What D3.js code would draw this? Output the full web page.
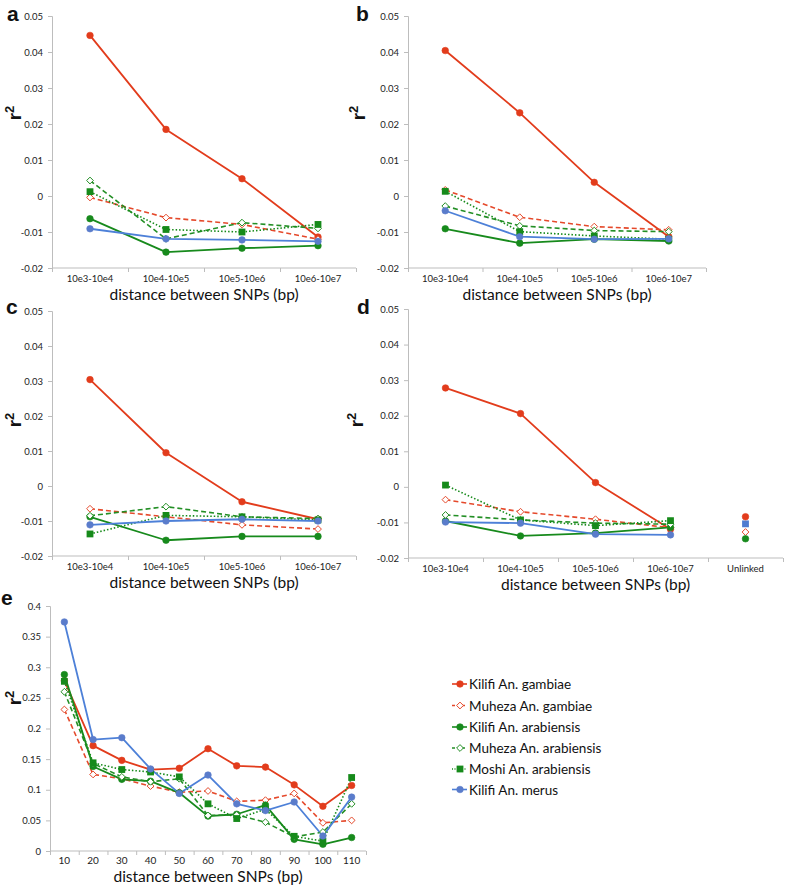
<!DOCTYPE html>
<html><head><meta charset="utf-8">
<script src="https://cdn.jsdelivr.net/npm/d3@7"></script>
<style>body{margin:0;background:#fff}svg{display:block}</style>
</head><body>
<svg id="c" width="785" height="885"></svg>
<script>
// ---------- DATA ----------
const seriesNames = ["Kilifi An. gambiae","Muheza An. gambiae","Kilifi An. arabiensis","Muheza An. arabiensis","Moshi An. arabiensis","Kilifi An. merus"];
const catsABC = ["10e3-10e4","10e4-10e5","10e5-10e6","10e6-10e7"];
const catsD = ["10e3-10e4","10e4-10e5","10e5-10e6","10e6-10e7","Unlinked"];
const catsE = ["10","20","30","40","50","60","70","80","90","100","110"];
const yTicksAD = [-0.02,-0.01,0,0.01,0.02,0.03,0.04,0.05];
const yTicksE = [0,0.05,0.1,0.15,0.2,0.25,0.3,0.35,0.4];

// panel a
const aKilifiGam  = [0.0446, 0.0185, 0.0048, -0.0114];
const aMuhezaGam  = [-0.0004, -0.0060, -0.0079, -0.0120];
const aKilifiAra  = [-0.0063, -0.0156, -0.0145, -0.0138];
const aMuhezaAra  = [0.0043, -0.0119, -0.0074, -0.0090];
const aMoshiAra   = [0.0012, -0.0093, -0.0100, -0.0079];
const aKilifiMer  = [-0.0091, -0.0119, -0.0122, -0.0126];
// panel b
const bKilifiGam  = [0.0404, 0.0231, 0.0038, -0.0113];
const bMuhezaGam  = [0.0017, -0.0059, -0.0085, -0.0094];
const bKilifiAra  = [-0.0091, -0.0131, -0.0120, -0.0125];
const bMuhezaAra  = [-0.0028, -0.0083, -0.0096, -0.0099];
const bMoshiAra   = [0.0013, -0.0099, -0.0111, -0.0120];
const bKilifiMer  = [-0.0041, -0.0113, -0.0120, -0.0119];
// panel c
const cKilifiGam  = [0.0304, 0.0095, -0.0045, -0.0095];
const cMuhezaGam  = [-0.0065, -0.0088, -0.0111, -0.0123];
const cKilifiAra  = [-0.0088, -0.0155, -0.0144, -0.0144];
const cMuhezaAra  = [-0.0085, -0.0059, -0.0088, -0.0093];
const cMoshiAra   = [-0.0137, -0.0084, -0.0088, -0.0097];
const cKilifiMer  = [-0.0111, -0.0100, -0.0095, -0.0100];
// panel d (last value = Unlinked, drawn as separate point)
const dKilifiGam  = [0.0278, 0.0206, 0.0012, -0.0119, -0.0084];
const dMuhezaGam  = [-0.0036, -0.0070, -0.0091, -0.0115, -0.0127];
const dKilifiAra  = [-0.0096, -0.0138, -0.0130, -0.0114, -0.0146];
const dMuhezaAra  = [-0.0079, -0.0093, -0.0102, -0.0105, null];
const dMoshiAra   = [0.0005, -0.0093, -0.0109, -0.0095, null];
const dKilifiMer  = [-0.0099, -0.0102, -0.0133, -0.0135, -0.0104];
// panel e
const eKilifiGam  = [0.278, 0.172, 0.148, 0.133, 0.135, 0.167, 0.139, 0.137, 0.108, 0.073, 0.107];
const eMuhezaGam  = [0.231, 0.125, 0.118, 0.106, 0.096, 0.098, 0.081, 0.083, 0.094, 0.046, 0.050];
const eKilifiAra  = [0.288, 0.138, 0.117, 0.114, 0.095, 0.057, 0.060, 0.075, 0.019, 0.011, 0.022];
const eMuhezaAra  = [0.260, 0.143, 0.121, 0.113, 0.118, 0.058, 0.059, 0.047, 0.023, 0.031, 0.077];
const eMoshiAra   = [0.277, 0.144, 0.133, 0.129, 0.121, 0.077, 0.053, 0.068, 0.024, 0.016, 0.120];
const eKilifiMer  = [0.374, 0.182, 0.185, 0.134, 0.094, 0.124, 0.077, 0.066, 0.080, 0.0245, 0.088];

// ---------- STYLE ----------
const styles = [
  {color:"#e23c1c", dash:null,    marker:"circle",  fill:true,  width:1.8},
  {color:"#e5492b", dash:"5,3",   marker:"diamond", fill:false, width:1.6},
  {color:"#178a1c", dash:null,    marker:"circle",  fill:true,  width:1.8},
  {color:"#238f25", dash:"5,3",   marker:"diamond", fill:false, width:1.6},
  {color:"#168a1a", dash:"1.5,2", marker:"square",  fill:true,  width:1.6},
  {color:"#4d80d8", dash:null,    marker:"circle",  fill:true,  width:1.8, mcolor:"#5a7ccb"}
];
const FONT = "Lato, 'Open Sans', sans-serif";
const svg = d3.select("#c");

function marker(g, type, x, y, st, colorOverride){
  const col = colorOverride || st.mcolor || st.color;
  if(type==="circle"){
    g.append("circle").attr("cx",x).attr("cy",y).attr("r",3.3).attr("fill",col).attr("stroke",col).attr("stroke-width",0.6);
  } else if(type==="square"){
    g.append("rect").attr("x",x-3.4).attr("y",y-3.4).attr("width",6.8).attr("height",6.8).attr("fill",col);
  } else {
    g.append("path").attr("d",`M${x},${y-3.4}L${x+3.4},${y}L${x},${y+3.4}L${x-3.4},${y}Z`)
      .attr("fill","#fff").attr("stroke",col).attr("stroke-width",1);
  }
}

function panel(cfg){
  const g = svg.append("g");
  const x = d3.scaleBand().domain(cfg.cats).range([cfg.x0,cfg.x1]).paddingInner(0).paddingOuter(0);
  const y = d3.scaleLinear().domain(cfg.ydom).range([cfg.yb,cfg.yt]);
  const cx = c => x(c)+x.bandwidth()/2;
  // y axis
  const ya = g.append("g").attr("transform",`translate(${cfg.x0},0)`)
    .call(d3.axisLeft(y).tickValues(cfg.yticks).tickSize(4).tickPadding(5).tickFormat(v=>String(+v.toFixed(2))));
  ya.select(".domain").attr("stroke","#bdbdbd");
  ya.selectAll(".tick line").attr("stroke","#bdbdbd");
  ya.selectAll("text").attr("font-family",FONT).attr("font-size",cfg.tfs||9.5).attr("fill","#222");
  // x axis: boundary ticks
  const xb = d3.scaleLinear().domain([0,cfg.cats.length]).range([cfg.x0,cfg.x1]);
  const xa = g.append("g").attr("transform",`translate(0,${cfg.yb})`)
    .call(d3.axisBottom(xb).tickValues(d3.range(cfg.cats.length+1)).tickSize(4).tickFormat(""));
  xa.select(".domain").attr("stroke","#bdbdbd").attr("d",`M${cfg.x0},0H${cfg.x1}`);
  xa.selectAll(".tick line").attr("stroke","#bdbdbd");
  // x labels
  const xl = g.append("g").attr("transform",`translate(0,${cfg.yb})`)
    .call(d3.axisBottom(x).tickSize(0).tickPadding(cfg.lpad||7));
  xl.select(".domain").remove();
  xl.selectAll("text").attr("font-family",FONT).attr("font-size",cfg.xfs||9.5).attr("fill","#222");
  // titles
  g.append("text").attr("x",(cfg.x0+cfg.x1)/2).attr("y",cfg.titleY).attr("text-anchor","middle")
    .attr("font-family",FONT).attr("font-size",15.5).attr("fill","#111").text("distance between SNPs (bp)");
  g.append("text").attr("x",cfg.lx).attr("y",cfg.ly).attr("font-family","Liberation Sans, Arial, sans-serif")
    .attr("font-weight","bold").attr("font-size",21).attr("fill","#111").text(cfg.letter);
  const rt = g.append("text").attr("transform",`translate(${cfg.rx},${cfg.ry}) rotate(-90)`).attr("text-anchor","middle")
    .attr("font-family","Liberation Sans, Arial, sans-serif").attr("font-weight","bold").attr("font-size",19).attr("fill","#111");
  rt.append("tspan").text("r");
  rt.append("tspan").attr("dy",-7).attr("font-size",13).text("2");
  // series
  const nLine = cfg.nLine || cfg.cats.length;
  cfg.series.forEach((vals,i)=>{
    const st = styles[i];
    const pts = vals.slice(0,nLine).map((v,j)=>[cx(cfg.cats[j]), y(v)]);
    g.append("path").attr("d",d3.line()(pts)).attr("fill","none").attr("stroke",st.color)
      .attr("stroke-width",st.width).attr("stroke-dasharray",st.dash).attr("stroke-linejoin","round");
  });
  cfg.series.forEach((vals,i)=>{
    const st = styles[i];
    vals.slice(0,nLine).forEach((v,j)=>marker(g, st.marker, cx(cfg.cats[j]), y(v), st));
  });
  if(cfg.extra){
    cfg.extra.forEach(e=>{
      const v = cfg.series[e.s][nLine];
      if(v!=null) marker(g, e.m, cx(cfg.cats[nLine]), y(v), styles[e.s], e.c);
    });
  }
}

const dom = [-0.02,0.05];
panel({cats:catsABC, x0:52, x1:356, yt:16, yb:268, ydom:dom, yticks:yTicksAD,
  series:[aKilifiGam,aMuhezaGam,aKilifiAra,aMuhezaAra,aMoshiAra,aKilifiMer],
  titleY:300, letter:"a", lx:7, ly:21, rx:21, ry:113});
panel({cats:catsABC, x0:408, x1:706, yt:16, yb:268, ydom:dom, yticks:yTicksAD,
  series:[bKilifiGam,bMuhezaGam,bKilifiAra,bMuhezaAra,bMoshiAra,bKilifiMer],
  titleY:300, letter:"b", lx:356, ly:21, rx:365, ry:113});
panel({cats:catsABC, x0:52, x1:356, yt:311, yb:556, ydom:dom, yticks:yTicksAD,
  series:[cKilifiGam,cMuhezaGam,cKilifiAra,cMuhezaAra,cMoshiAra,cKilifiMer],
  titleY:588, letter:"c", lx:6, ly:314, rx:21, ry:420});
panel({cats:catsD, x0:408, x1:783, yt:309, yb:558, ydom:dom, yticks:yTicksAD, nLine:4,
  series:[dKilifiGam,dMuhezaGam,dKilifiAra,dMuhezaAra,dMoshiAra,dKilifiMer],
  extra:[{s:1,m:"diamond"},{s:5,m:"square",c:"#4f7bd0"},{s:0,m:"circle"},{s:2,m:"circle"}],
  titleY:590, letter:"d", lx:357, ly:314, rx:363, ry:420});
panel({cats:catsE, x0:50, x1:366, yt:606, yb:851, ydom:[0,0.4], yticks:yTicksE, xfs:10, lpad:6,
  series:[eKilifiGam,eMuhezaGam,eKilifiAra,eMuhezaAra,eMoshiAra,eKilifiMer],
  titleY:882, letter:"e", lx:1, ly:605, rx:21, ry:698});

// legend
const lg = svg.append("g");
const legY = [684, 705.5, 727, 748, 769, 789.5];
seriesNames.forEach((n,i)=>{
  const st = styles[i];
  lg.append("line").attr("x1",452).attr("x2",467).attr("y1",legY[i]).attr("y2",legY[i])
    .attr("stroke",st.color).attr("stroke-width",1.6).attr("stroke-dasharray",st.dash ? (st.dash==="5,3"?"3,2":"1,1.5") : null);
  marker(lg, st.marker, 460, legY[i], st);
  lg.append("text").attr("x",469).attr("y",legY[i]+5).attr("font-family",FONT).attr("font-size",13.5)
    .attr("fill","#111").text(n);
});
</script>
</body></html>
